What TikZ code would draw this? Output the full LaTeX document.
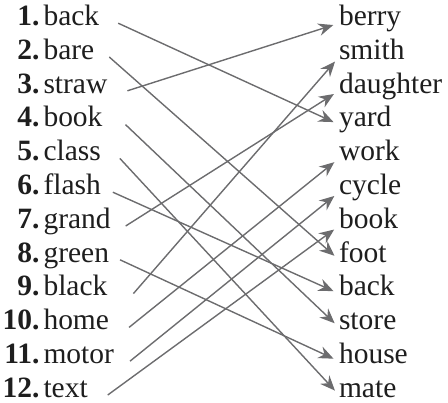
\documentclass[tikz,border=0pt]{standalone}
\usepackage{fontspec}
\setmainfont{Liberation Serif}
\usetikzlibrary{arrows.meta}
\definecolor{linegray}{RGB}{108,108,110}
\definecolor{textblack}{RGB}{30,30,30}
\begin{document}
\begin{tikzpicture}[x=1pt,y=-1pt,
  lword/.style={anchor=base west,inner sep=0pt,outer sep=0pt,text=textblack,font=\fontsize{29.5}{32}\selectfont},
  rword/.style={anchor=base west,inner sep=0pt,outer sep=0pt,text=textblack,font=\fontsize{29.5}{32}\selectfont},
  num/.style={anchor=base east,inner sep=0pt,outer sep=0pt,text=textblack,font=\fontsize{29.5}{32}\selectfont\bfseries},
  arr/.style={draw=linegray,line width=1.4pt,-{Stealth[length=15pt,width=12.5pt,inset=5pt]},shorten >=6pt}]
\useasboundingbox (0,0) rectangle (448,403);
\foreach \i/\w in {1/back,2/bare,3/straw,4/book,5/class,6/flash,7/grand,8/green,9/black,10/home,11/motor,12/text}{
  \node[num] (n\i) at (39.5,{25.5+33.8*(\i-1)}) {\i.};
  \node[lword] (l\i) at (43.5,{25.5+33.8*(\i-1)}) {\w};
}
\foreach \i/\w in {1/berry,2/smith,3/daughter,4/yard,5/work,6/cycle,7/book,8/foot,9/back,10/store,11/house,12/mate}{
  \node[rword] (r\i) at (339,{25.5+33.8*(\i-1)}) {\w};
}
\draw[arr] ([xshift=19pt]l1.mid east) -- (r4.mid west);
\draw[arr] ([xshift=15pt]l2.mid east) -- (r8.mid west);
\draw[arr] ([xshift=20pt]l3.mid east) -- (r1.mid west);
\draw[arr] ([xshift=23pt]l4.mid east) -- (r10.mid west);
\draw[arr] ([xshift=19pt]l5.mid east) -- (r12.mid west);
\draw[arr] ([xshift=12pt]l6.mid east) -- (r9.mid west);
\draw[arr] ([xshift=15pt]l7.mid east) -- (r3.mid west);
\draw[arr] ([xshift=11pt]l8.mid east) -- (r11.mid west);
\draw[arr] ([xshift=26pt]l9.mid east) -- (r2.mid west);
\draw[arr] ([xshift=20pt]l10.mid east) -- (r5.mid west);
\draw[arr] ([xshift=16pt]l11.mid east) -- (r6.mid west);
\draw[arr] ([xshift=20pt]l12.mid east) -- (r7.mid west);
\end{tikzpicture}
\end{document}
